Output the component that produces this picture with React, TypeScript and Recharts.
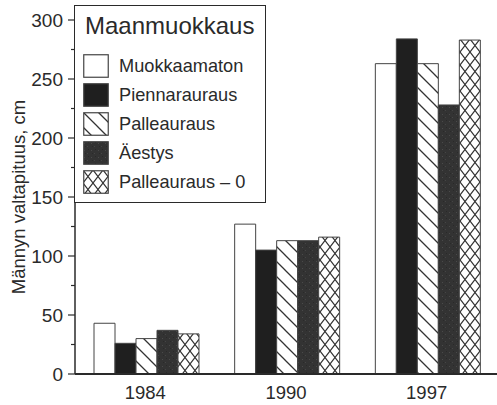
import { BarChart, Bar, XAxis, YAxis } from "recharts";

const categories = ["1984", "1990", "1997"];
const muokkaamaton = [43, 127, 263];
const piennarauraus = [26, 105, 284];
const palleauraus = [30, 113, 263];
const aestys = [37, 113, 228];
const palleauraus0 = [34, 116, 283];
const yTicks = [0, 25, 50, 75, 100, 125, 150, 175, 200, 225, 250, 275, 300];

const seriesNames = ["Muokkaamaton", "Piennarauraus", "Palleauraus", "Äestys", "Palleauraus – 0"];
const seriesFills = ["#ffffff", "#1f1f1f", "url(#hatch)", "url(#speckle)", "url(#cross)"];
const seriesKeys = ["s0", "s1", "s2", "s3", "s4"];

const data = categories.map((year, i) => ({
  year,
  s0: muokkaamaton[i],
  s1: piennarauraus[i],
  s2: palleauraus[i],
  s3: aestys[i],
  s4: palleauraus0[i],
}));

const INK = "#2a2a2a";
const FONT = "'Liberation Sans', Arial, sans-serif";

function YTick({ x, y, payload }: any) {
  const major = payload.value % 50 === 0;
  return (
    <g>
      <line x1={x - (major ? 7 : 4)} x2={x} y1={y} y2={y} stroke={INK} strokeWidth={1.2} />
      {major && (
        <text x={x - 12} y={y} dy={7} textAnchor="end" fontSize={19} fill={INK} fontFamily={FONT}>
          {payload.value}
        </text>
      )}
    </g>
  );
}

function YLabel({ viewBox }: any) {
  const cx = viewBox.x + 20;
  const cy = viewBox.y + viewBox.height / 2;
  return (
    <text
      x={cx}
      y={cy}
      textAnchor="middle"
      dominantBaseline="middle"
      transform={`rotate(-90, ${cx}, ${cy})`}
      fontSize={18.5}
      fill={INK}
      fontFamily={FONT}
    >
      Männyn valtapituus, cm
    </text>
  );
}

function LegendBox() {
  return (
    <div
      style={{
        position: "absolute",
        left: 74,
        top: 5,
        width: 192,
        height: 198,
        border: `1.5px solid ${INK}`,
        background: "#fff",
        boxSizing: "border-box",
        fontFamily: FONT,
        color: INK,
      }}
    >
      <div style={{ position: "absolute", left: 10, top: 5, fontSize: 24, lineHeight: "30px" }}>Maanmuokkaus</div>
      {seriesNames.map((name, i) => (
        <div
          key={name}
          style={{ position: "absolute", left: 8, top: 48 + i * 29, height: 24, display: "flex", alignItems: "center" }}
        >
          <svg width={26} height={24} style={{ display: "block" }}>
            <rect x={0.75} y={0.75} width={24.5} height={22.5} fill={seriesFills[i]} stroke="#444" strokeWidth={1.2} />
          </svg>
          <span style={{ marginLeft: 10, fontSize: 18.2, whiteSpace: "nowrap" }}>{name}</span>
        </div>
      ))}
    </div>
  );
}

export default function App() {
  return (
    <div style={{ position: "absolute", left: 0, top: 0, width: 497, height: 405, background: "#fff" }}>
      <BarChart
        width={497}
        height={405}
        data={data}
        margin={{ top: 20, right: 0, bottom: 0, left: 0 }}
        barGap={0}
        barCategoryGap={19}
      >
        <defs>
          <pattern id="hatch" patternUnits="userSpaceOnUse" width={15} height={15}>
            <rect width={15} height={15} fill="#fff" />
            <path d="M0,0 L15,15 M-2,13 L2,17 M13,-2 L17,2" stroke="#333" strokeWidth={1.3} />
          </pattern>
          <pattern id="cross" patternUnits="userSpaceOnUse" width={10} height={13}>
            <rect width={10} height={13} fill="#fff" />
            <path d="M0,0 L10,13 M10,0 L0,13" stroke="#333" strokeWidth={1.2} />
          </pattern>
          <pattern id="speckle" patternUnits="userSpaceOnUse" width={7} height={7}>
            <rect width={7} height={7} fill="#333" />
            <rect x={1} y={2} width={1} height={1} fill="#4a4a4a" />
            <rect x={4} y={5} width={1} height={1} fill="#454545" />
            <rect x={5} y={1} width={1} height={1} fill="#292929" />
            <rect x={2} y={5} width={1} height={1} fill="#2a2a2a" />
          </pattern>
        </defs>
        <XAxis
          dataKey="year"
          axisLine={{ stroke: INK, strokeWidth: 2 }}
          tickLine={false}
          tickSize={6}
          tickMargin={6}
          height={31}
          tick={{ fill: INK, fontSize: 18.5, fontFamily: FONT }}
        />
        <YAxis
          width={75}
          domain={[0, 300]}
          ticks={yTicks}
          interval={0}
          axisLine={{ stroke: INK, strokeWidth: 1.5 }}
          tickLine={false}
          tickSize={0}
          tickMargin={0}
          tick={<YTick />}
          label={<YLabel />}
        />
        {seriesKeys.map((k, i) => (
          <Bar
            key={k}
            dataKey={k}
            name={seriesNames[i]}
            fill={seriesFills[i]}
            stroke="#444"
            strokeWidth={1}
            isAnimationActive={false}
          />
        ))}
      </BarChart>
      <LegendBox />
    </div>
  );
}
